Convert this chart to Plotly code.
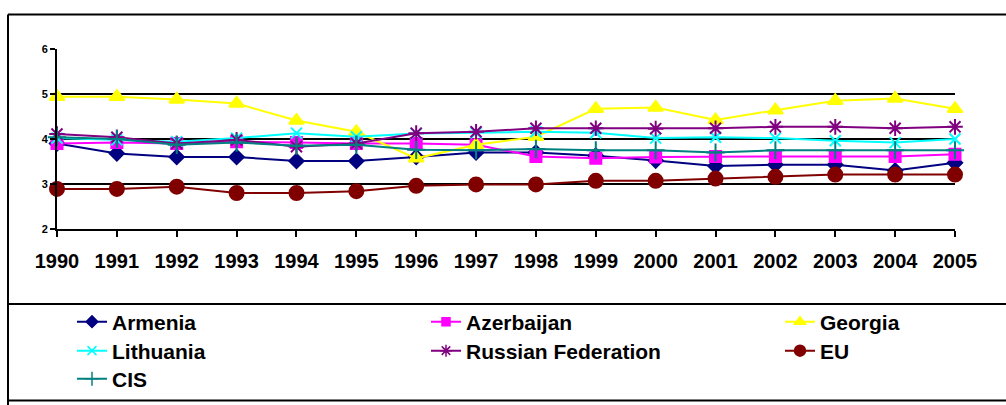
import plotly.graph_objects as go

years = list(range(1990, 2006))
armenia = [3.90, 3.68, 3.60, 3.60, 3.51, 3.51, 3.60, 3.70, 3.70, 3.63, 3.52, 3.40, 3.43, 3.43, 3.30, 3.47]
azerbaijan = [3.90, 3.92, 3.90, 3.94, 3.92, 3.90, 3.90, 3.87, 3.61, 3.57, 3.60, 3.61, 3.61, 3.61, 3.61, 3.66]
georgia = [4.94, 4.94, 4.88, 4.79, 4.41, 4.16, 3.57, 3.87, 4.05, 4.67, 4.70, 4.42, 4.64, 4.85, 4.90, 4.67]
lithuania = [4.02, 3.98, 3.94, 4.02, 4.13, 4.05, 4.12, 4.14, 4.16, 4.14, 4.02, 4.04, 4.02, 3.96, 3.92, 4.00]
russia = [4.11, 4.04, 3.90, 3.98, 3.83, 3.90, 4.13, 4.16, 4.24, 4.24, 4.23, 4.24, 4.27, 4.27, 4.24, 4.27]
eu = [2.89, 2.89, 2.94, 2.80, 2.80, 2.84, 2.96, 2.99, 2.99, 3.07, 3.07, 3.12, 3.16, 3.21, 3.21, 3.21]
cis = [4.04, 4.00, 3.87, 3.92, 3.85, 3.87, 3.76, 3.75, 3.78, 3.75, 3.75, 3.70, 3.75, 3.75, 3.75, 3.75]

series_names = ["Armenia", "Azerbaijan", "Georgia", "Lithuania", "Russian Federation", "EU", "CIS"]
series_values = [armenia, azerbaijan, georgia, lithuania, russia, eu, cis]
colors = ["#000080", "#FF00FF", "#FFFF00", "#00FFFF", "#800080", "#800000", "#008080"]
symbols = ["diamond", "square", "triangle-up", "x-thin-open", "asterisk-open", "circle", "cross-thin-open"]
sizes = [11, 11, 13, 11, 13, 14, 13]
legend_sizes = [9, 8, 10, 9, 10, 11, 10]

W, H = 1006, 405
L, R, T, B = 57, 955, 49, 229

# legend slots (px): column text starts and row centres
leg_cols = [72, 426, 780]
leg_rows = [322, 351, 379]

fig = go.Figure()
legends = {}
for i, (name, vals, col, sym, sz) in enumerate(zip(series_names, series_values, colors, symbols, sizes)):
    fig.add_trace(go.Scatter(
        x=years, y=vals, name=name, mode="lines+markers",
        line=dict(color=col, width=2),
        marker=dict(symbol=sym, size=sz, color=col, line=dict(color=col, width=2)),
        cliponaxis=False, showlegend=False,
    ))

for i, (name, col, sym, lsz) in enumerate(zip(series_names, colors, symbols, legend_sizes)):
    lid = "legend" if i == 0 else f"legend{i + 1}"
    # legend-only entry (no data points) with smaller marker, like the reference key
    fig.add_trace(go.Scatter(
        x=[None], y=[None], name=name, mode="lines+markers",
        line=dict(color=col, width=2),
        marker=dict(symbol=sym, size=lsz, color=col, line=dict(color=col, width=1.5)),
        showlegend=True, legend=lid, hoverinfo="skip",
    ))
    cx = leg_cols[i % 3]
    cy = leg_rows[i // 3]
    legends[lid] = dict(
        orientation="h", xref="container", yref="container",
        x=cx / W, y=1 - cy / H, xanchor="left", yanchor="middle",
        font=dict(family="Liberation Sans, Arial, sans-serif", size=21, color="black", weight="bold"),
        bgcolor="rgba(0,0,0,0)", borderwidth=0, itemclick=False, itemdoubleclick=False,
    )

def px_x(p):
    return (p - L) / (R - L)

def px_y(p):
    return (B - p) / (B - T)

frame = dict(color="black", width=2)
shapes = [
    dict(type="line", xref="paper", yref="paper", x0=px_x(8), x1=px_x(1010), y0=px_y(14.5), y1=px_y(14.5), line=frame),
    dict(type="line", xref="paper", yref="paper", x0=px_x(8), x1=px_x(8), y0=px_y(14.5), y1=px_y(410), line=frame),
    dict(type="line", xref="paper", yref="paper", x0=px_x(8), x1=px_x(1010), y0=px_y(304), y1=px_y(304), line=frame),
    dict(type="line", xref="paper", yref="paper", x0=px_x(8), x1=px_x(1010), y0=px_y(400.5), y1=px_y(400.5), line=frame),
]

fig.update_layout(
    width=W, height=H,
    margin=dict(l=L, r=W - R, t=T, b=H - B, pad=0),
    paper_bgcolor="white", plot_bgcolor="white",
    showlegend=True,
    shapes=shapes,
    xaxis=dict(range=[1990, 2005], tickmode="array", tickvals=years,
               ticktext=[str(y) for y in years], showgrid=False,
               showline=True, linecolor="black", linewidth=2,
               ticks="outside", ticklen=6, tickwidth=2, tickcolor="black",
               ticklabelstandoff=7,
               tickfont=dict(family="Liberation Sans, Arial, sans-serif", size=20, color="black", weight="bold"),
               zeroline=False, fixedrange=True, automargin=False),
    yaxis=dict(range=[2, 6], tickvals=[2, 3, 4, 5, 6], showgrid=True,
               gridcolor="black", gridwidth=2,
               showline=True, linecolor="black", linewidth=2,
               ticks="outside", ticklen=5, tickwidth=2, tickcolor="black",
               tickfont=dict(family="Liberation Sans, Arial, sans-serif", size=11, color="black", weight="bold"),
               zeroline=False, fixedrange=True, automargin=False),
)
fig.update_layout(**legends)

fig.write_html("out.html", config={"displayModeBar": False},
               post_script="document.body.style.margin='0';")
